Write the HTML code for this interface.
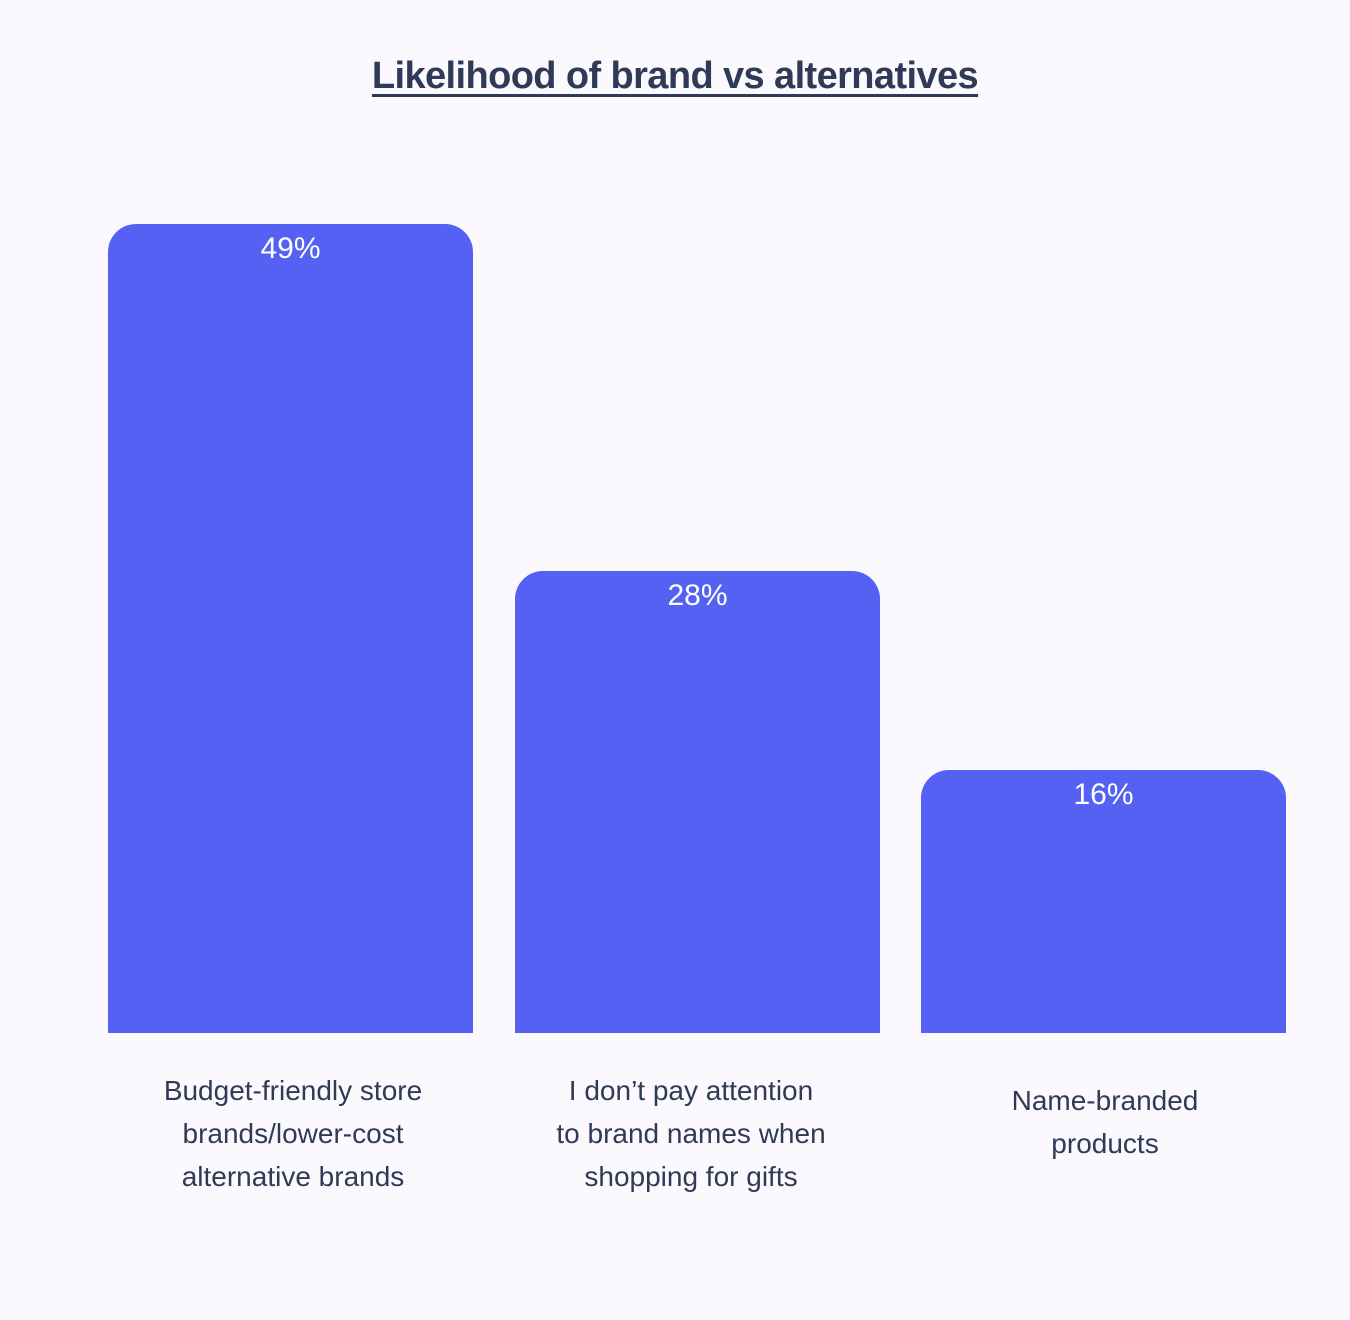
<!DOCTYPE html>
<html><head><meta charset="utf-8"><style>
body{margin:0;width:1350px;height:1320px;background:#fbf9fe;font-family:"Liberation Sans",sans-serif;position:relative;overflow:hidden}
.t{position:absolute;left:0;width:1350px;top:55px;text-align:center;font-size:38px;font-weight:bold;color:#2f3a56;text-decoration:underline;text-decoration-thickness:3px;text-underline-offset:6px;letter-spacing:-0.6px}
.b{position:absolute;width:365px;background:#5461f2;border-radius:28px 28px 0 0;bottom:287px}
.v{position:absolute;width:365px;text-align:center;color:#fff;font-size:30px}
.l{position:absolute;width:420px;text-align:center;color:#2f3a56;font-size:28px;line-height:43px}
</style></head><body>
<div class="t">Likelihood of brand vs alternatives</div>
<div class="b" style="left:108px;top:224px"></div>
<div class="b" style="left:515px;top:571px"></div>
<div class="b" style="left:921px;top:770px"></div>
<div class="v" style="left:108px;top:232px">49%</div>
<div class="v" style="left:515px;top:579px">28%</div>
<div class="v" style="left:921px;top:778px">16%</div>
<div class="l" style="left:83px;top:1069px">Budget-friendly store<br>brands/lower-cost<br>alternative brands</div>
<div class="l" style="left:481px;top:1069px">I don’t pay attention<br>to brand names when<br>shopping for gifts</div>
<div class="l" style="left:895px;top:1079px">Name-branded<br>products</div>
</body></html>
